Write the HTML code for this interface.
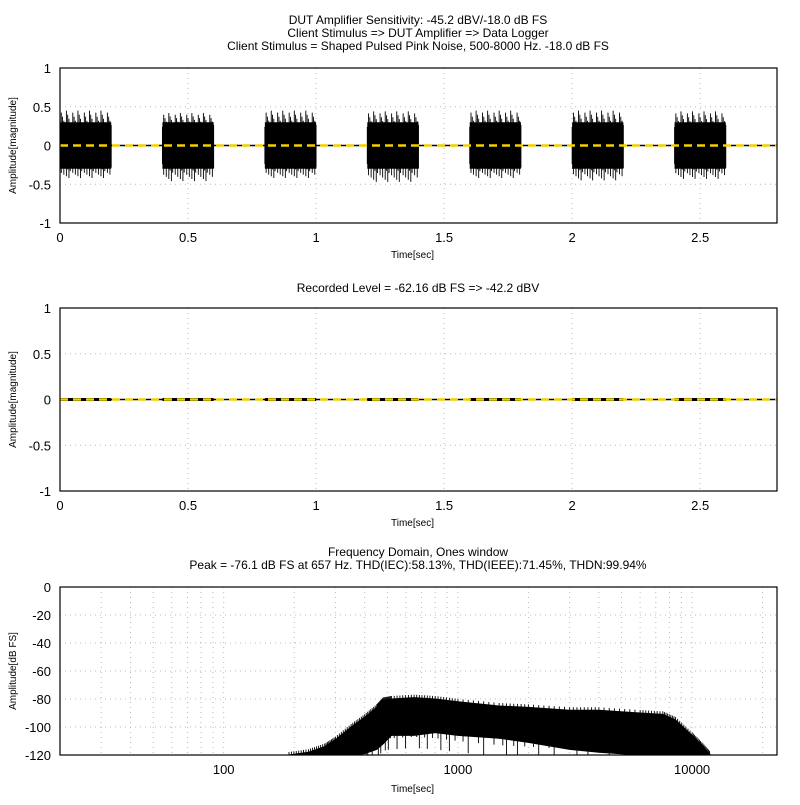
<!DOCTYPE html>
<html><head><meta charset="utf-8"><style>
body{margin:0;background:#fff}
svg{font-family:"Liberation Sans",sans-serif}
</style></head><body>
<svg id="c" width="800" height="800" viewBox="0 0 800 800">
<rect width="800" height="800" fill="#fff"/>
<text x="418" y="24" font-size="12" text-anchor="middle">DUT Amplifier Sensitivity: -45.2 dBV/-18.0 dB FS</text>
<text x="418" y="37" font-size="12" text-anchor="middle">Client Stimulus =&gt; DUT Amplifier =&gt; Data Logger</text>
<text x="418" y="50" font-size="12" text-anchor="middle">Client Stimulus = Shaped Pulsed Pink Noise, 500-8000 Hz. -18.0 dB FS</text>
<text x="418" y="292" font-size="12" text-anchor="middle">Recorded Level = -62.16 dB FS  =&gt; -42.2 dBV</text>
<text x="418" y="556" font-size="12" text-anchor="middle">Frequency Domain, Ones window</text>
<text x="418" y="569" font-size="12" text-anchor="middle">Peak = -76.1 dB FS at 657 Hz. THD(IEC):58.13%, THD(IEEE):71.45%, THDN:99.94%</text>
<g id="g"></g>
</svg>
<script>
// Time-domain data
const burstStarts=[0,0.4,0.8,1.2,1.6,2.0,2.4];
const burstEnds=[0.2,0.6,1.0,1.4,1.8,2.2,2.6];
const burstPeak=[0.45,0.42,0.45,0.44,0.45,0.45,0.44];
const burstTrough=[-0.42,-0.46,-0.42,-0.47,-0.42,-0.45,-0.43];
const burstBodyTop=[0.3,0.3,0.3,0.3,0.3,0.3,0.3];
const burstBodyBot=[-0.3,-0.3,-0.3,-0.3,-0.3,-0.3,-0.3];
const recordedAmp=[0,0,0,0,0,0,0];
const timeTicks=[0,0.5,1,1.5,2,2.5];
const ampTicks=[1,0.5,0,-0.5,-1];
// Spectrum data
const specFreq=[190,230,270,300,350,400,450,480,520,650,800,1000,1500,2000,3000,4000,6000,7500,8500,10000,11000,12000];
const specUpper=[-120,-118,-114,-109,-100,-93,-86,-81,-80,-79,-80,-82,-85,-86,-88,-88,-90,-91,-95,-106,-113,-120];
const specLower=[-120,-120,-120,-120,-120,-119,-116,-112,-106,-106,-104,-106,-108,-111,-116,-118,-120,-120,-120,-120,-120,-120];
const dbTicks=[0,-20,-40,-60,-80,-100,-120];
const freqTicks=[100,1000,10000];

const NS="http://www.w3.org/2000/svg";
const G=document.getElementById('g');
function el(t,a,p){const e=document.createElementNS(NS,t);for(const k in a)e.setAttribute(k,a[k]);(p||G).appendChild(e);return e;}
const L=60,R=777;
function tx(t){return L+(t/2.8)*(R-L);}
function panel(top,bot,name,mid){
  const ay=v=>top+(1-v)/2*(bot-top);
  for(const t of timeTicks){const x=tx(t);
    if(t>0){const gl=el('line',{x1:x,x2:x,y1:top,y2:bot,stroke:'#bbb','stroke-dasharray':'1,4'});
    }
    const tl=el('text',{x:x,y:bot+19,'font-size':13,'text-anchor':'middle'});tl.textContent=t;
    }
  for(const v of ampTicks){const y=ay(v);
    if(v!==1&&v!==-1){const gl=el('line',{x1:L,x2:R,y1:y,y2:y,stroke:'#bbb','stroke-dasharray':'1,4'});
    }
    const tl=el('text',{x:L-9,y:y+5,'font-size':13,'text-anchor':'end'});tl.textContent=v;
    }
  const xt=el('text',{x:(L+R)/2-6,y:bot+35,'font-size':10,'text-anchor':'middle'});xt.textContent='Time[sec]';
  
  const yt=el('text',{x:0,y:0,'font-size':10,'text-anchor':'middle',transform:`translate(16,${(top+bot)/2}) rotate(-90)`});yt.textContent='Amplitude[magnitude]';
  
  el('line',{x1:L,x2:R,y1:ay(0),y2:ay(0),stroke:'#000','stroke-width':1.5});
  if(!mid){
    for(let i=0;i<burstStarts.length;i++){
      const x0=tx(burstStarts[i]),x1=tx(burstEnds[i]);
      const b=el('rect',{x:x0,y:ay(burstBodyTop[i]),width:x1-x0,height:ay(burstBodyBot[i])-ay(burstBodyTop[i]),fill:'#000'});
      
      const n=40;
      let d='';
      for(let k=0;k<=n;k++){const x=x0+(x1-x0)*k/n;const f=(k*7%9)/8;
        const hi=burstBodyTop[i]*0.8+(burstPeak[i]-burstBodyTop[i]*0.8)*f;
        const lo=burstBodyBot[i]*0.8+(burstTrough[i]-burstBodyBot[i]*0.8)*((k*5%9)/8);
        d+=`M${x},${ay(hi)}V${ay(lo)}`;}
      const s=el('path',{d:d,stroke:'#000','stroke-width':0.9});
      
    }
  } else {
    for(let i=0;i<burstStarts.length;i++){
      const x0=tx(burstStarts[i]),x1=tx(burstEnds[i]);
      const b=el('rect',{x:x0,y:ay(recordedAmp[i])-1.5,width:x1-x0,height:3,fill:'#000'});
      
    }
  }
  const yl=el('line',{x1:L,x2:R,y1:ay(0),y2:ay(0),stroke:'#f0d000','stroke-width':2.5,'stroke-dasharray':'8,5'});
  
  const fr=el('rect',{x:L,y:top,width:R-L,height:bot-top,fill:'none',stroke:'#000','stroke-width':1.2});
  
}
panel(68,223,'top-panel',false);
panel(308,491,'middle-panel',true);

// spectrum
const T=587,B=755,dec=234.2;
const fx=f=>L+(Math.log10(f)-Math.log10(20))*dec;
const fy=v=>T+(-v/120)*(B-T);
for(let e=10;e<=10000;e*=10)for(let m=1;m<10;m++){const f=e*m;const x=fx(f);if(x<=L+1||x>=R)continue;
  const gl=el('line',{x1:x,x2:x,y1:T,y2:B,stroke:'#bbb','stroke-dasharray':'1,4'});
  }
for(const v of dbTicks){const y=fy(v);
  if(v!==0&&v!==-120){const gl=el('line',{x1:L,x2:R,y1:y,y2:y,stroke:'#bbb','stroke-dasharray':'1,4'});
  }
  const tl=el('text',{x:L-9,y:y+5,'font-size':13,'text-anchor':'end'});tl.textContent=v;
  }
for(const f of freqTicks){const tl=el('text',{x:fx(f),y:B+19,'font-size':13,'text-anchor':'middle'});tl.textContent=f;
  }
let d='M'+fx(specFreq[0])+','+fy(specUpper[0]);
for(let i=1;i<specFreq.length;i++)d+='L'+fx(specFreq[i])+','+fy(specUpper[i]);
for(let i=specFreq.length-1;i>=0;i--)d+='L'+fx(specFreq[i])+','+fy(specLower[i]);
const sp=el('path',{d:d+'Z',fill:'#000',stroke:'#000','stroke-width':1});

let sd='';
for(let i=0;i<specFreq.length-1;i++){for(let k=0;k<8;k++){const f=specFreq[i]*Math.pow(specFreq[i+1]/specFreq[i],k/8);
  const u=specUpper[i]+(specUpper[i+1]-specUpper[i])*k/8;const x=fx(f);
  sd+=`M${x},${fy(u)-3}V${fy(Math.max(-120,u-20-(k%3)*8))}`;}}
const ss=el('path',{d:sd,stroke:'#000','stroke-width':0.9});

const sxt=el('text',{x:(L+R)/2-6,y:B+37,'font-size':10,'text-anchor':'middle'});sxt.textContent='Time[sec]';

const syt=el('text',{x:0,y:0,'font-size':10,'text-anchor':'middle',transform:`translate(16,${(T+B)/2}) rotate(-90)`});syt.textContent='Amplitude[dB FS]';

const sf=el('rect',{x:L,y:T,width:R-L,height:B-T,fill:'none',stroke:'#000','stroke-width':1.2});

</script>
</body></html>
